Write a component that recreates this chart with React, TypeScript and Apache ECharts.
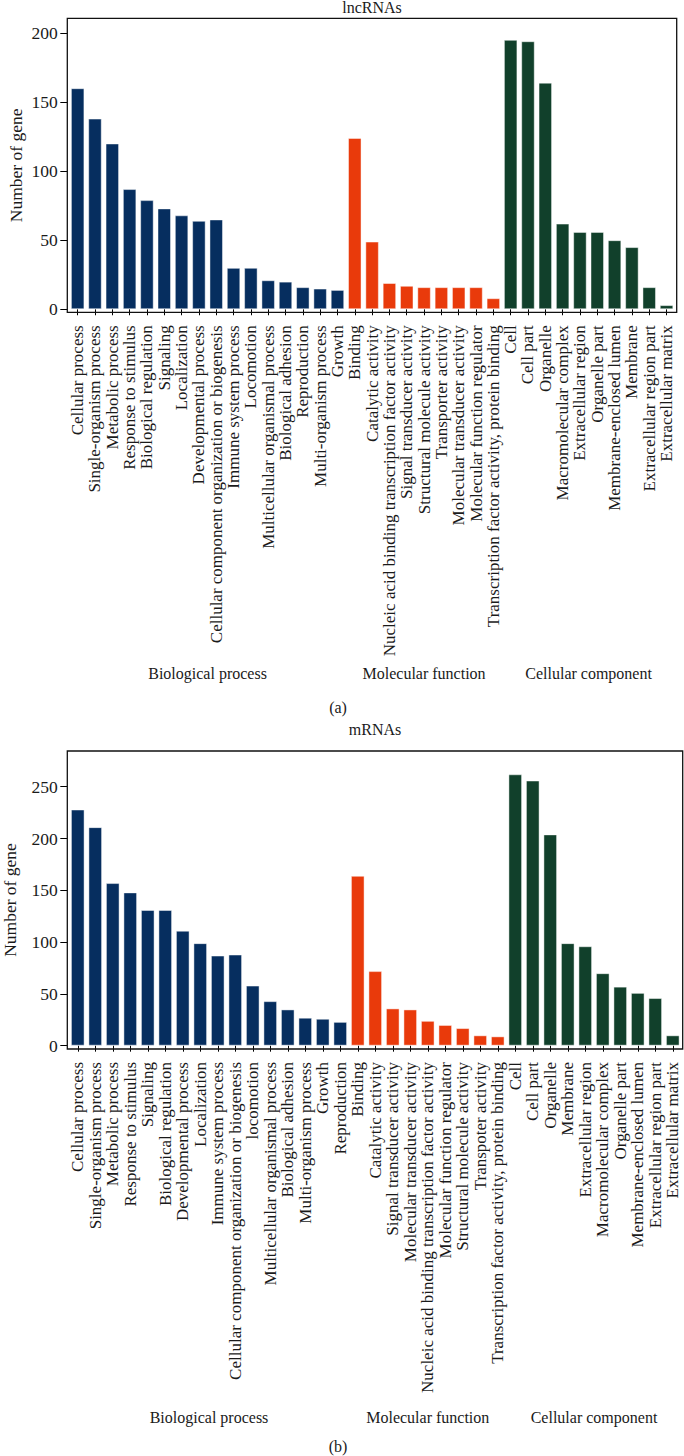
import React, { useEffect, useRef } from "react";
import * as echarts from "echarts";

// ---------- Data: lncRNAs (a) ----------
const lncBP = [
  "Cellular process",
  "Single-organism process",
  "Metabolic process",
  "Response to stimulus",
  "Biological regulation",
  "Signaling",
  "Localization",
  "Developmental process",
  "Cellular component organization or biogenesis",
  "Immune system process",
  "Locomotion",
  "Multicellular organismal process",
  "Biological adhesion",
  "Reproduction",
  "Multi-organism process",
  "Growth",
];
const lncBPValues = [160, 138, 120, 87, 79, 73, 68, 64, 65, 30, 30, 21, 20, 16, 15, 14];

const lncMF = [
  "Binding",
  "Catalytic activity",
  "Nucleic acid binding transcription factor activity",
  "Signal transducer activity",
  "Structural molecule activity",
  "Transporter activity",
  "Molecular transducer activity",
  "Molecular function regulator",
  "Transcription factor activity, protein binding",
];
const lncMFValues = [124, 49, 19, 17, 16, 16, 16, 16, 8];

const lncCC = [
  "Cell",
  "Cell part",
  "Organelle",
  "Macromolecular complex",
  "Extracellular region",
  "Organelle part",
  "Membrane-enclosed lumen",
  "Membrane",
  "Extracellular region part",
  "Extracellular matrix",
];
const lncCCValues = [195, 194, 164, 62, 56, 56, 50, 45, 16, 3];

// ---------- Data: mRNAs (b) ----------
const mBP = [
  "Cellular process",
  "Single-organism process",
  "Metabolic process",
  "Response to stimulus",
  "Signaling",
  "Biological regulation",
  "Developmental process",
  "Localization",
  "Immune system process",
  "Cellular component organization or biogenesis",
  "locomotion",
  "Multicellular organismal process",
  "Biological adhesion",
  "Multi-organism process",
  "Growth",
  "Reproduction",
];
const mBPValues = [228, 211, 157, 148, 131, 131, 111, 99, 87, 88, 58, 43, 35, 27, 26, 23];

const mMF = [
  "Binding",
  "Catalytic activity",
  "Signal transducer activity",
  "Molecular transducer activity",
  "Nucleic acid binding transcription factor activity",
  "Molecular function regulator",
  "Structural molecule activity",
  "Transpoter activity",
  "Transcription factor activity, protein binding",
];
const mMFValues = [164, 72, 36, 35, 24, 20, 17, 10, 9];

const mCC = [
  "Cell",
  "Cell part",
  "Organelle",
  "Membrane",
  "Extracellular region",
  "Macromolecular complex",
  "Organelle part",
  "Membrane-enclosed lumen",
  "Extracellular region part",
  "Extracellular matrix",
];
const mCCValues = [262, 256, 204, 99, 96, 70, 57, 51, 46, 10];

const groupNames = ["Biological process", "Molecular function", "Cellular component"];
const topTicks = [0, 50, 100, 150, 200];
const bottomTicks = [0, 50, 100, 150, 200, 250];

const COLORS = ["#062E5F", "#E93A0B", "#11402B"];
const FONT = "'Liberation Serif', 'Times New Roman', serif";
const TEXT = "#1a1a1a";

function build(groups: string[][], values: number[][]) {
  const cats: string[] = [];
  const data: any[] = [];
  groups.forEach((g, gi) => {
    g.forEach((c, i) => {
      cats.push(c);
      data.push({
        value: values[gi][i],
        itemStyle: { color: COLORS[gi] },
      });
    });
  });
  return { cats, data };
}

export default function App() {
  const ref = useRef<HTMLDivElement>(null);
  useEffect(() => {
    if (!ref.current) return;
    const chart = echarts.init(ref.current, null, { renderer: "svg" });
    const top = build([lncBP, lncMF, lncCC], [lncBPValues, lncMFValues, lncCCValues]);
    const bot = build([mBP, mMF, mCC], [mBPValues, mMFValues, mCCValues]);

    const frames = [
      { x: 67.3, y: 18.3, w: 609.4, h: 294 },
      { x: 67.3, y: 751, w: 615.4, h: 298 },
    ];

    const xAxisCommon = (gridIndex: number, data: string[]) => ({
      type: "category",
      gridIndex,
      data,
      axisLine: { show: false },
      axisTick: { show: true, alignWithLabel: true, length: 6, lineStyle: { color: "#000", width: 1 } },
      axisLabel: {
        rotate: 90,
        interval: 0,
        fontFamily: FONT,
        fontSize: 17,
        color: TEXT,
        margin: 13,
      },
      splitLine: { show: false },
    });

    const yAxisCommon = (gridIndex: number, min: number, max: number, ticks: number[], nameGap: number) => ({
      type: "value",
      gridIndex,
      min,
      max,
      offset: 1.7,
      name: "Number of gene",
      nameLocation: "middle",
      nameRotate: 90,
      nameGap,
      nameMoveOverlap: false,
      nameTextStyle: { fontFamily: FONT, fontSize: 17.5, color: TEXT },
      axisLine: { show: false },
      splitLine: { show: false },
      axisTick: { show: true, length: 7, customValues: ticks, lineStyle: { color: "#000", width: 1 } },
      axisLabel: { customValues: ticks, fontFamily: FONT, fontSize: 17.5, color: TEXT, margin: 9.5 },
    });

    const seriesCommon = {
      type: "bar",
      barCategoryGap: "22%",
      itemStyle: { borderColor: "rgba(255,255,255,0.45)", borderWidth: 1 },
    };

    chart.setOption({
      animation: false,
      backgroundColor: "#fff",
      grid: [
        { left: 69, top: 18.3, width: 606.2, height: 294, containLabel: false, outerBoundsMode: "none" },
        { left: 69, top: 751, width: 612.5, height: 298, containLabel: false, outerBoundsMode: "none" },
      ],
      xAxis: [xAxisCommon(0, top.cats), xAxisCommon(1, bot.cats)],
      yAxis: [
        yAxisCommon(0, -2.2, 210.6, topTicks, 42),
        yAxisCommon(1, -3.2, 284.5, bottomTicks, 48),
      ],
      series: [
        { ...seriesCommon, xAxisIndex: 0, yAxisIndex: 0, data: top.data },
        { ...seriesCommon, xAxisIndex: 1, yAxisIndex: 1, data: bot.data },
      ],
    });

    const groupCenter = (axisIndex: number, groups: string[][]) =>
      groups.map((g) => {
        const a = chart.convertToPixel({ xAxisIndex: axisIndex } as any, g[0]) as number;
        const b = chart.convertToPixel({ xAxisIndex: axisIndex } as any, g[g.length - 1]) as number;
        return (a + b) / 2;
      });
    const topCenters = groupCenter(0, [lncBP, lncMF, lncCC]);
    const botCenters = groupCenter(1, [mBP, mMF, mCC]);

    const txt = (x: number, y: number, text: string, size = 16) => ({
      type: "text",
      x,
      y,
      style: {
        text,
        fontFamily: FONT,
        fontSize: size,
        fill: TEXT,
        textAlign: "center",
        textVerticalAlign: "middle",
      },
      z: 10,
    });

    const graphics: any[] = [];
    frames.forEach((f) =>
      graphics.push({
        type: "rect",
        shape: { x: f.x, y: f.y, width: f.w, height: f.h },
        style: { fill: "none", stroke: "#111", lineWidth: 1.3 },
        z: 20,
      })
    );
    graphics.push(txt(frames[0].x + frames[0].w / 2, 7, "lncRNAs"));
    graphics.push(txt(frames[1].x + frames[1].w / 2, 729, "mRNAs"));
    groupNames.forEach((n, i) => {
      graphics.push(txt(topCenters[i], 673, n));
      graphics.push(txt(botCenters[i], 1417, n));
    });
    graphics.push(txt(338, 707, "(a)"));
    graphics.push(txt(338, 1446, "(b)"));

    chart.setOption({ graphic: graphics });

    return () => chart.dispose();
  }, []);
  return (
    <div
      ref={ref}
      style={{ position: "absolute", left: 0, top: 0, width: 684, height: 1456, background: "#fff" }}
    />
  );
}
